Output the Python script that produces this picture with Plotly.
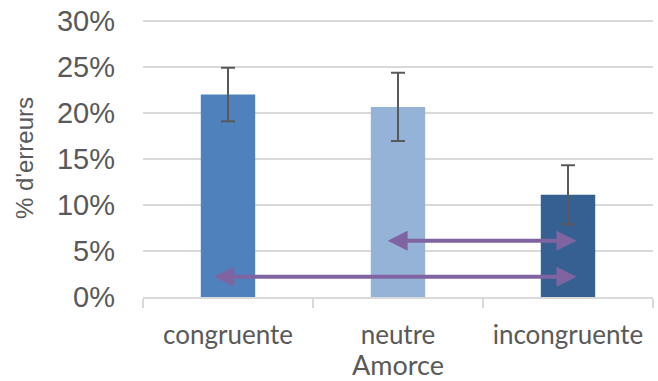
import plotly.graph_objects as go

# Données
amorces = ["congruente", "neutre", "incongruente"]
erreurs = [0.22, 0.2065, 0.111]
erreurs_sd = [0.029, 0.037, 0.032]
couleurs = ["#4F81BD", "#95B3D7", "#366092"]

# Flèches (comparaisons) : début x, fin x, niveau y
fleches_x0 = [-0.09, 0.93]
fleches_x1 = [2.05, 2.05]
fleches_y = [0.022, 0.061]

fig = go.Figure()

fig.add_trace(go.Bar(
    x=amorces,
    y=erreurs,
    marker=dict(color=couleurs, line=dict(width=0)),
    width=0.32,
    error_y=dict(type="data", array=erreurs_sd, visible=True,
                 color="#595959", thickness=2, width=7),
    showlegend=False,
))

for x0, x1, y in zip(fleches_x0, fleches_x1, fleches_y):
    fig.add_annotation(
        x=x1, y=y, ax=x0, ay=y,
        xref="x", yref="y", axref="x", ayref="y",
        showarrow=True, arrowhead=2, arrowside="end+start",
        arrowsize=1.0, arrowwidth=4, arrowcolor="#8064A2", text="",
    )

fig.update_layout(
    width=658, height=381,
    margin=dict(l=143, r=5, t=19, b=84),
    plot_bgcolor="white", paper_bgcolor="white",
)

fig.update_yaxes(
    range=[0, 0.302], tickvals=[0, 0.05, 0.10, 0.15, 0.20, 0.25, 0.30],
    tickformat=".0%", automargin=False,
    showgrid=True, gridcolor="#D9D9D9", gridwidth=1.5,
    zeroline=False, showline=False,
    tickfont=dict(family="Liberation Sans, Arial", size=29, color="#595959"),
    ticklabelstandoff=27,
    title=dict(text="% d'erreurs", standoff=16,
               font=dict(family="Liberation Sans, Arial", size=24, color="#595959")),
)

fig.update_xaxes(
    range=[-0.5, 2.5], automargin=False,
    showline=True, linecolor="#D9D9D9", linewidth=1.5,
    ticks="outside", tickson="boundaries", ticklen=9, tickcolor="#D9D9D9", tickwidth=1.5,
    tickfont=dict(family="Lato, Open Sans", size=26, color="#595959"),
    ticklabelstandoff=14,
    title=dict(text="Amorce", standoff=0,
               font=dict(family="Lato, Open Sans", size=27, color="#595959")),
)

# sans la marge par défaut de la page, la figure occupe toute la fenêtre
fig.write_html("out.html", config={"displayModeBar": False},
               post_script="document.body.style.margin = '0';")
